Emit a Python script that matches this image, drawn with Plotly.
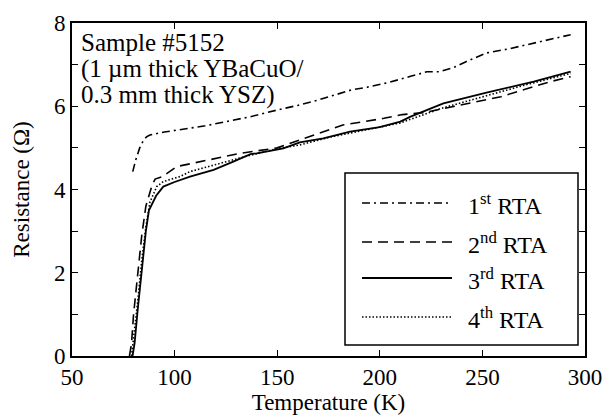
import plotly.graph_objects as go

# ---- data ----
T1 = [79.6, 81, 83, 85, 86.5, 88, 95, 105, 115, 125, 137, 150, 160, 170, 186, 194, 205, 215, 223, 229, 236, 242, 252, 263, 275, 285, 293]
R1 = [4.43, 4.7, 5.0, 5.2, 5.27, 5.31, 5.38, 5.46, 5.53, 5.63, 5.75, 5.91, 6.02, 6.15, 6.39, 6.46, 6.58, 6.72, 6.83, 6.83, 6.93, 7.07, 7.28, 7.38, 7.51, 7.62, 7.72]

T2 = [78, 79, 80, 82, 84, 86, 87.5, 89, 90.5, 94, 101, 116, 132, 150, 165, 182, 202, 211, 222, 242, 259, 267, 283, 293]
R2 = [0, 0.3, 1.0, 2.0, 2.9, 3.6, 3.85, 4.1, 4.25, 4.31, 4.55, 4.71, 4.87, 5.0, 5.25, 5.55, 5.71, 5.8, 5.85, 6.05, 6.23, 6.35, 6.59, 6.71]

T3 = [79.5, 80.5, 82, 84, 86, 87.5, 89.6, 91, 94.5, 100, 107.5, 119, 128.6, 137, 140, 153, 161, 172.5, 185.5, 200, 210, 215, 231, 252, 275, 293]
R3 = [0, 0.3, 1.1, 2.1, 3.0, 3.5, 3.71, 3.85, 4.07, 4.18, 4.31, 4.47, 4.67, 4.85, 4.87, 4.99, 5.13, 5.23, 5.39, 5.5, 5.63, 5.75, 6.07, 6.33, 6.59, 6.83]

T4 = [79, 80, 82, 84, 86, 88, 90, 91.3, 94.5, 102.6, 107.5, 120, 135, 150, 161, 175, 190, 210, 230, 250, 270, 293]
R4 = [0, 0.4, 1.3, 2.3, 3.1, 3.7, 3.95, 4.07, 4.19, 4.31, 4.43, 4.6, 4.8, 4.98, 5.07, 5.25, 5.4, 5.6, 5.95, 6.22, 6.5, 6.79]

series_names = ["1<sup>st</sup> RTA", "2<sup>nd</sup> RTA", "3<sup>rd</sup> RTA", "4<sup>th</sup> RTA"]
x_ticks = [50, 100, 150, 200, 250, 300]
y_ticks = [0, 2, 4, 6, 8]
y_minor_ticks = [1, 3, 5, 7]
note_lines = ["Sample #5152", "(1 \u00b5m thick YBaCuO/", "0.3 mm thick YSZ)"]

# ---- styling ----
FONT = "Liberation Serif"
W, H = 607, 415
L, R, T, B = 72, 585, 23, 356
dashes = ["8px,4px,2px,4px", "10px,6px", "solid", "1.5px,2px"]
widths = [1.6, 1.6, 1.8, 1.6]

def pxx(x):
    return (x - L) / (R - L)

def pxy(y):
    return (B - y) / (B - T)

fig = go.Figure()
for Tx, Ry, d, w in zip([T1, T2, T3, T4], [R1, R2, R3, R4], dashes, widths):
    fig.add_trace(go.Scatter(x=Tx, y=Ry, mode="lines",
                             line=dict(color="black", width=w, dash=d),
                             showlegend=False, hoverinfo="skip"))

shapes = []
annotations = []
# legend box
shapes.append(dict(type="rect", xref="paper", yref="paper",
                   x0=pxx(345), x1=pxx(578), y0=pxy(345), y1=pxy(173),
                   line=dict(color="black", width=1.5), fillcolor="white", layer="above"))
leg_y = [203, 242, 278, 317]
for name, d, w, yy in zip(series_names, dashes, widths, leg_y):
    shapes.append(dict(type="line", xref="paper", yref="paper",
                       x0=pxx(362), x1=pxx(452), y0=pxy(yy), y1=pxy(yy),
                       line=dict(color="black", width=w, dash=d), layer="above"))
    annotations.append(dict(xref="paper", yref="paper", x=pxx(466), y=pxy(yy + 1),
                            xanchor="left", yanchor="middle", showarrow=False,
                            text=name, font=dict(family=FONT, size=24, color="black")))

note_y = [42, 69, 95]
for line, yy in zip(note_lines, note_y):
    annotations.append(dict(xref="paper", yref="paper", x=pxx(79), y=pxy(yy),
                            xanchor="left", yanchor="middle", showarrow=False,
                            text=line, font=dict(family=FONT, size=25, color="black")))

axis_common = dict(ticks="inside", ticklen=6, tickwidth=1.3, tickcolor="black",
                   showline=True, linecolor="black", linewidth=1.6, mirror="ticks",
                   showgrid=False, zeroline=False, automargin=False,
                   tickfont=dict(family=FONT, size=23, color="black"))

fig.update_layout(
    width=W, height=H,
    margin=dict(l=L, r=W - R, t=T, b=H - B, pad=0),
    paper_bgcolor="white", plot_bgcolor="white",
    font=dict(family=FONT, size=22, color="black"),
    shapes=shapes, annotations=annotations, hovermode=False,
    xaxis=dict(range=[50, 300], tickvals=x_ticks, **axis_common,
               title=dict(text="Temperature (K)", font=dict(family=FONT, size=23, color="black"), standoff=8)),
    yaxis=dict(range=[0, 8], tickvals=y_ticks, **axis_common,
               minor=dict(tickvals=y_minor_ticks, ticks="inside", ticklen=6, tickwidth=1.3,
                          tickcolor="black", showgrid=False),
               title=dict(text="Resistance (\u03a9)", font=dict(family=FONT, size=23, color="black"), standoff=18)),
)

fig.write_html("out.html", config={"displayModeBar": False},
               post_script="document.body.style.margin='0px';document.body.style.padding='0px';")
